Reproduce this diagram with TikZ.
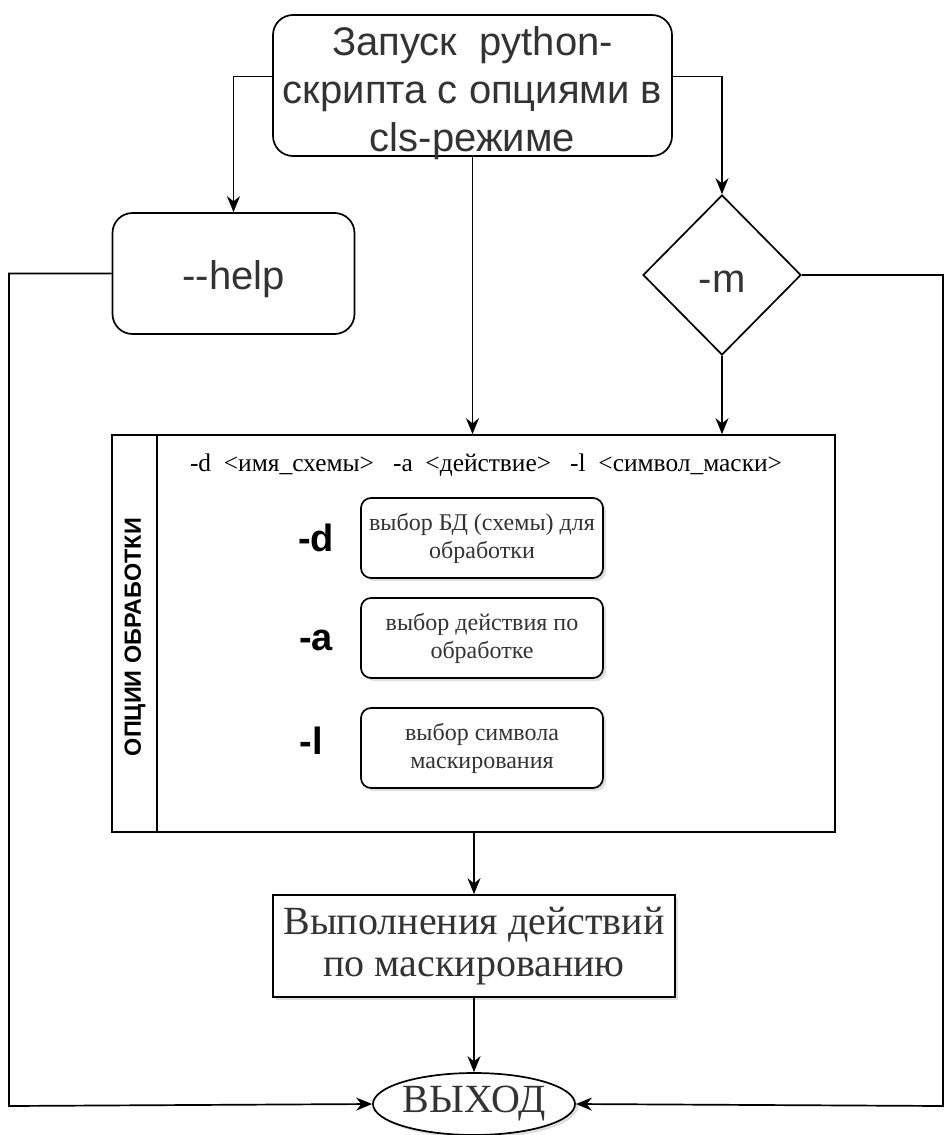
\documentclass[tikz,border=0pt]{standalone}
\usepackage{fontspec}
\setmainfont{Liberation Serif}
\setsansfont{Liberation Sans}
\usetikzlibrary{arrows.meta}
\usetikzlibrary{shapes.geometric}
\usetikzlibrary{shadows}
\tikzset{>={Stealth[length=8pt,width=6.5pt]}}
\definecolor{txtgray}{HTML}{333333}
\tikzset{
  startbox/.style={draw, rounded corners=10pt, align=center, text=txtgray,
    font=\sffamily\fontsize{20}{24}\selectfont},
  optbox/.style={draw, rounded corners=5pt, align=center, text=txtgray, fill=white,
    minimum width=121pt, minimum height=40pt, inner sep=1pt,
    font=\fontsize{12}{14}\selectfont,
    drop shadow={shadow xshift=1.5pt, shadow yshift=-1.5pt, opacity=0.25}},
  optkey/.style={font=\sffamily\bfseries\fontsize{19}{20}\selectfont},
  shadowed/.style={drop shadow={shadow xshift=1.5pt, shadow yshift=-1.5pt, opacity=0.25}}
}

\begin{document}
\begin{tikzpicture}[x=0.5pt, y=-0.5pt, line width=0.85pt]
  \useasboundingbox (0,0) rectangle (945,1135);
  % nodes
  \node[startbox, minimum width=199.5pt, minimum height=70.5pt] (start) at (472.5,85.5) {};
  \node[align=center, text=txtgray, font=\sffamily\fontsize{20}{24}\selectfont] (starttxt)
    at (472.5,93) {Запуск\ \ python-\\скрипта с опциями в\\cls-режиме};
  \node[startbox, minimum width=121pt, minimum height=60.5pt] (help) at (233.5,273.5) {};
  \node[text=txtgray, font=\sffamily\fontsize{20}{20}\selectfont] (helptxt) at (233.5,279) {-{}-help};
  \node[draw, diamond, aspect=1, minimum width=79pt, minimum height=80pt, inner sep=0pt] (mflag)
    at (722,275) {};
  \node[text=txtgray, font=\sffamily\fontsize{20}{20}\selectfont] (mtxt) at (722,282) {-m};
  \node[draw, minimum width=361.5pt, minimum height=198.5pt] (opts) at (473.5,633.5) {};
  \draw ([xshift=23pt]opts.north west) -- ([xshift=23pt]opts.south west);
  \node[rotate=90, font=\sffamily\bfseries\fontsize{11.7}{12}\selectfont] (optlbl) at (135,637)
    {ОПЦИИ ОБРАБОТКИ};
  \node[font=\fontsize{12.7}{14}\selectfont] (optline) at (486,465)
    {-d\ \ <имя\_схемы>\ \ \ -a\ \ <действие>\ \ \ -l\ \ <символ\_маски>};
  \node[optkey] (keyd) at (316,538) {-d};
  \node[optkey] (keya) at (316,640) {-a};
  \node[optkey] (keyl) at (311,741) {-l};
  \node[optbox] (optd) at (482,538) {выбор БД (схемы) для\\обработки};
  \node[optbox] (opta) at (482,638) {выбор действия по\\обработке};
  \node[optbox] (optl) at (482,748) {выбор символа\\маскирования};
  \node[draw, shadowed, fill=white, minimum width=201pt, minimum height=51pt, align=center,
    text=txtgray, font=\fontsize{20}{21}\selectfont] (act) at (474,946)
    {Выполнения действий\\по маскированию};
  \node[draw, ellipse, shadowed, fill=white, minimum width=101pt, minimum height=31pt, inner sep=0pt,
    text=txtgray, font=\fontsize{20}{20}\selectfont] (exit) at (474,1104) {ВЫХОД};
  \coordinate (lft) at (9,1106);
  \coordinate (rgt) at (943,1106);
  % lines
  \draw[->] ([yshift=4.5pt]start.west) -| (help.north);
  \draw[->] ([yshift=4.5pt]start.east) -| (mflag.north);
  \draw[->] (start.south) -- (start.south |- opts.north);
  \draw[->] (mflag.south) -- (mflag.south |- opts.north);
  \draw[->] (act.north |- opts.south) -- (act.north);
  \draw[->] (act.south) -- (exit.north);
  \draw[->] (help.west) -| (lft) -- (exit.west);
  \draw[->] (mflag.east) -| (rgt) -- (exit.east);
\end{tikzpicture}
\end{document}
